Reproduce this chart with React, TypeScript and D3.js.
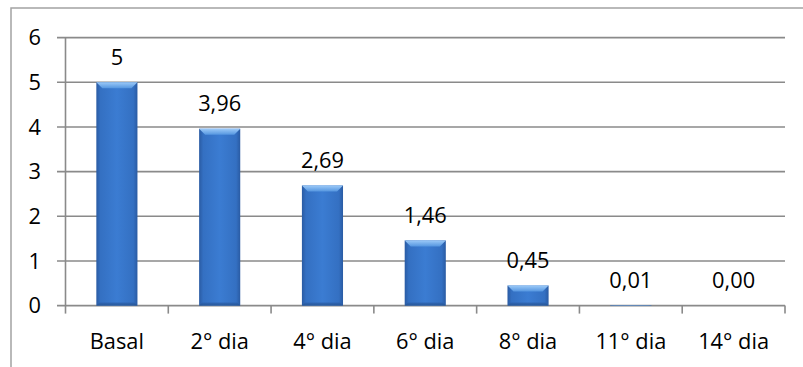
import React, { useLayoutEffect } from "react";
import * as d3 from "d3";

// Categories, values and the value labels shown above each bar
const categories = ["Basal", "2° dia", "4° dia", "6° dia", "8° dia", "11° dia", "14° dia"];
const values = [5, 3.96, 2.69, 1.46, 0.45, 0.01, 0.0];
const valueLabels = ["5", "3,96", "2,69", "1,46", "0,45", "0,01", "0,00"];
const yTicks = [0, 1, 2, 3, 4, 5, 6];

const W = 803;
const H = 367;
const FONT = "'Open Sans', Lato, sans-serif";
const FS = 21.8;

export default function App() {
  useLayoutEffect(() => {
    document.body.style.margin = "0";
  }, []);

  const plotLeft = 65.5;
  const plotRight = 785;
  const plotTop = 37.6;
  const plotBottom = 305.6;

  const x = d3
    .scaleBand<string>()
    .domain(categories)
    .range([plotLeft, plotRight])
    .paddingInner(0.6)
    .paddingOuter(0.3);
  const xTicks = d3.scaleBand<string>().domain(categories).range([plotLeft, plotRight]);
  const y = d3.scaleLinear().domain([0, 6]).range([plotBottom, plotTop]);

  const bw = x.bandwidth();
  const bevel = 6;

  return (
    <svg width={W} height={H} style={{ display: "block", background: "#fff" }}>
      <defs>
        <linearGradient id="barBody" x1="0" x2="1" y1="0" y2="0">
          <stop offset="0" stopColor="#2a5ba3" />
          <stop offset="0.1" stopColor="#3470c2" />
          <stop offset="0.5" stopColor="#3b7cd2" />
          <stop offset="0.9" stopColor="#3470c2" />
          <stop offset="1" stopColor="#2a5ba3" />
        </linearGradient>
        <linearGradient id="barTop" x1="0" x2="0" y1="0" y2="1">
          <stop offset="0" stopColor="#9ccaf8" />
          <stop offset="1" stopColor="#5596e0" />
        </linearGradient>
        <linearGradient id="barBottom" x1="0" x2="0" y1="0" y2="1">
          <stop offset="0" stopColor="#2d62ad" />
          <stop offset="1" stopColor="#24518f" />
        </linearGradient>
      </defs>

      {/* outer frame */}
      <rect x={11} y={8} width={W + 10} height={H + 10} fill="none" stroke="#a3a3a3" strokeWidth={1.5} />

      {/* horizontal gridlines and y tick labels */}
      {yTicks.map((t) => (
        <g key={t}>
          <line x1={57} x2={plotRight} y1={y(t)} y2={y(t)} stroke="#8a8a8a" strokeWidth={1.6} />
          <text x={41} y={y(t) + 7.8} textAnchor="end" fontFamily={FONT} fontSize={FS} fill="#000">
            {t}
          </text>
        </g>
      ))}

      {/* y axis */}
      <line x1={plotLeft} x2={plotLeft} y1={plotTop} y2={plotBottom} stroke="#8a8a8a" strokeWidth={1.6} />

      {/* category tick marks */}
      {categories.map((c) => (
        <line
          key={"t" + c}
          x1={(xTicks(c) as number) + xTicks.bandwidth()}
          x2={(xTicks(c) as number) + xTicks.bandwidth()}
          y1={plotBottom}
          y2={plotBottom + 8}
          stroke="#8a8a8a"
          strokeWidth={1.6}
        />
      ))}
      <line x1={plotLeft} x2={plotLeft} y1={plotBottom} y2={plotBottom + 8} stroke="#8a8a8a" strokeWidth={1.6} />

      {/* bars */}
      {categories.map((c, i) => {
        const x0 = x(c) as number;
        const x1 = x0 + bw;
        const yt = y(values[i]);
        const h = plotBottom - yt;
        const b = Math.min(bevel, h / 2);
        if (h <= 0) return null;
        return (
          <g key={c}>
            <rect x={x0} y={yt} width={bw} height={h} fill="url(#barBody)" />
            <polygon
              points={`${x0},${yt} ${x1},${yt} ${x1 - b},${yt + b} ${x0 + b},${yt + b}`}
              fill="url(#barTop)"
            />
            <polygon
              points={`${x0},${plotBottom} ${x1},${plotBottom} ${x1 - b * 0.5},${plotBottom - b * 0.5} ${x0 + b * 0.5},${plotBottom - b * 0.5}`}
              fill="url(#barBottom)"
              opacity={0.8}
            />
          </g>
        );
      })}

      {/* value labels */}
      {categories.map((c, i) => (
        <text
          key={"v" + c}
          x={(x(c) as number) + bw / 2}
          y={y(values[i]) - 17.5}
          textAnchor="middle"
          fontFamily={FONT}
          fontSize={FS}
          fill="#000"
        >
          {valueLabels[i]}
        </text>
      ))}

      {/* category labels */}
      {categories.map((c) => (
        <text
          key={"c" + c}
          x={(x(c) as number) + bw / 2}
          y={348.5}
          textAnchor="middle"
          fontFamily={FONT}
          fontSize={FS}
          fill="#000"
        >
          {c}
        </text>
      ))}
    </svg>
  );
}
